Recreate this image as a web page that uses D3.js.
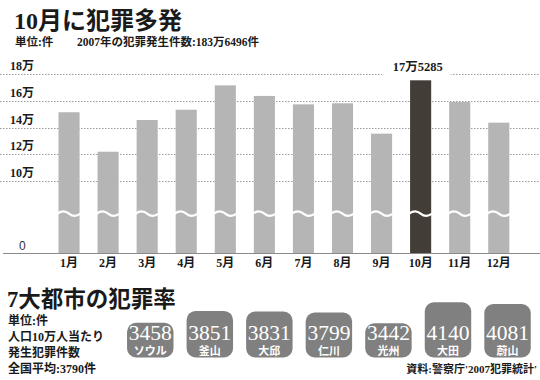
<!DOCTYPE html>
<html><head><meta charset="utf-8">
<script src="https://cdn.jsdelivr.net/npm/d3@7"></script>
<style>
html,body{margin:0;padding:0;background:#fff;}
svg{display:block;}
text{font-family:"Liberation Serif","Noto Sans CJK JP",serif;fill:#1a1a1a;}
</style></head>
<body>
<script>
const months = ["1月","2月","3月","4月","5月","6月","7月","8月","9月","10月","11月","12月"];
const crimes = [151400,121900,145600,153300,171500,163600,157300,158100,135400,175285,159100,143600];
const highlightMonth = "10月";
const yTicks = [100000,120000,140000,160000,180000];
const yTickLabels = ["10万","12万","14万","16万","18万"];
const cities = ["ソウル","釜山","大邱","仁川","光州","大田","蔚山"];
const rates = [3458,3851,3831,3799,3442,4140,4081];

const W = 540, H = 380;
const svg = d3.select("body").append("svg").attr("width", W).attr("height", H);

// titles
svg.append("text").attr("x", 14).attr("y", 29).style("font-size", "24px").style("font-weight", "600").text("10月に犯罪多発");
svg.append("text").attr("x", 15).attr("y", 46).style("font-size", "11.5px").style("font-weight", "bold").text("単位:件");
svg.append("text").attr("x", 77).attr("y", 46).style("font-size", "11.5px").style("font-weight", "bold").text("2007年の犯罪発生件数:183万6496件");

// scales
const x = d3.scaleBand().domain(months).range([49.5, 518.3]).paddingInner(0.46).paddingOuter(0.23);
const y = d3.scaleLinear().domain([0, 100000, 180000]).range([253.5, 181, 74]);
const breakY = y(55000);

// gridlines
svg.append("g").selectAll("line").data(yTicks).join("line")
  .attr("x1", 0).attr("x2", W)
  .attr("y1", d => Math.round(y(d)) + 0.5).attr("y2", d => Math.round(y(d)) + 0.5)
  .attr("stroke", "#9a9a9a").attr("stroke-width", 1).attr("stroke-dasharray", "1.5,1.5");

// tick labels
svg.append("g").selectAll("text").data(yTicks).join("text")
  .attr("x", 10).attr("y", d => y(d) - 4)
  .style("font-size", "12px").style("font-weight", "bold")
  .text((d, i) => yTickLabels[i]);
svg.append("text").attr("x", 19).attr("y", 249.5)
  .style("font-family", "'Liberation Sans',sans-serif").style("font-size", "12px").style("fill", "#333").text("0");

// value label with white backing
const hi = months.indexOf(highlightMonth);
const hv = crimes[hi];
const hx = x(highlightMonth) + x.bandwidth() / 2;
svg.append("rect").attr("x", hx - 38).attr("y", 62).attr("width", 68).attr("height", 16).attr("fill", "#fff");
svg.append("text").attr("x", hx - 3).attr("y", 71).attr("text-anchor", "middle")
  .style("font-size", "12.5px").style("font-weight", "bold")
  .text(Math.floor(hv / 10000) + "万" + (hv % 10000));

// bars
svg.append("g").selectAll("rect").data(months).join("rect")
  .attr("x", d => x(d)).attr("width", x.bandwidth())
  .attr("y", (d, i) => y(crimes[i])).attr("height", (d, i) => y(0) - y(crimes[i]))
  .attr("fill", d => d === highlightMonth ? "#433d37" : "#b5b5b5");

// break waves
svg.append("g").selectAll("path").data(months).join("path")
  .attr("d", d => {
    const x0 = x(d), w = x.bandwidth();
    return `M${x0 - 1},${breakY} Q${x0 + w / 4},${breakY - 4.5} ${x0 + w / 2},${breakY} T${x0 + w + 1},${breakY}`;
  })
  .attr("fill", "none").attr("stroke", "#fff").attr("stroke-width", 2.2);

// axis baseline
svg.append("line").attr("x1", 3).attr("x2", W).attr("y1", y(0)).attr("y2", y(0))
  .attr("stroke", "#8a8a8a").attr("stroke-width", 1);

// month labels
svg.append("g").selectAll("text").data(months).join("text")
  .attr("x", d => x(d) + x.bandwidth() / 2).attr("y", 267).attr("text-anchor", "middle")
  .style("font-size", "12px").style("font-weight", "bold").text(d => d);

// second section
svg.append("text").attr("x", 7).attr("y", 306.5).style("font-size", "22.5px").style("font-weight", "600").text("7大都市の犯罪率");
const notes = ["単位:件", "人口10万人当たり", "発生犯罪件数", "全国平均:3790件"];
svg.append("g").selectAll("text").data(notes).join("text")
  .attr("x", 8).attr("y", (d, i) => 325 + i * 16)
  .style("font-size", "12px").style("font-weight", "bold").text(d => d);

const cx = d3.scaleBand().domain(cities).range([120.5, 537.3]).paddingInner(0.22).paddingOuter(0.11);
const bh = d3.scaleLinear().domain([3400, 4200]).range([33, 57]);
const boxBottom = 357.5;
const gBoxes = svg.append("g").selectAll("g").data(cities).join("g");
gBoxes.append("rect")
  .attr("x", d => cx(d)).attr("width", cx.bandwidth())
  .attr("y", (d, i) => boxBottom - bh(rates[i])).attr("height", (d, i) => bh(rates[i]))
  .attr("rx", 9).attr("ry", 9).attr("fill", "#808080");
gBoxes.append("text")
  .attr("x", d => cx(d) + cx.bandwidth() / 2).attr("y", 340).attr("text-anchor", "middle")
  .style("font-size", "21.5px").style("fill", "#fff").text((d, i) => rates[i]);
gBoxes.append("text")
  .attr("x", d => cx(d) + cx.bandwidth() / 2).attr("y", 354.5).attr("text-anchor", "middle")
  .style("font-size", "11px").style("font-weight", "bold").style("fill", "#fff").text(d => d);

svg.append("text").attr("x", 537).attr("y", 373).attr("text-anchor", "end")
  .style("font-size", "11px").style("font-weight", "bold").text("資料:警察庁'2007犯罪統計'");
</script>
</body></html>
